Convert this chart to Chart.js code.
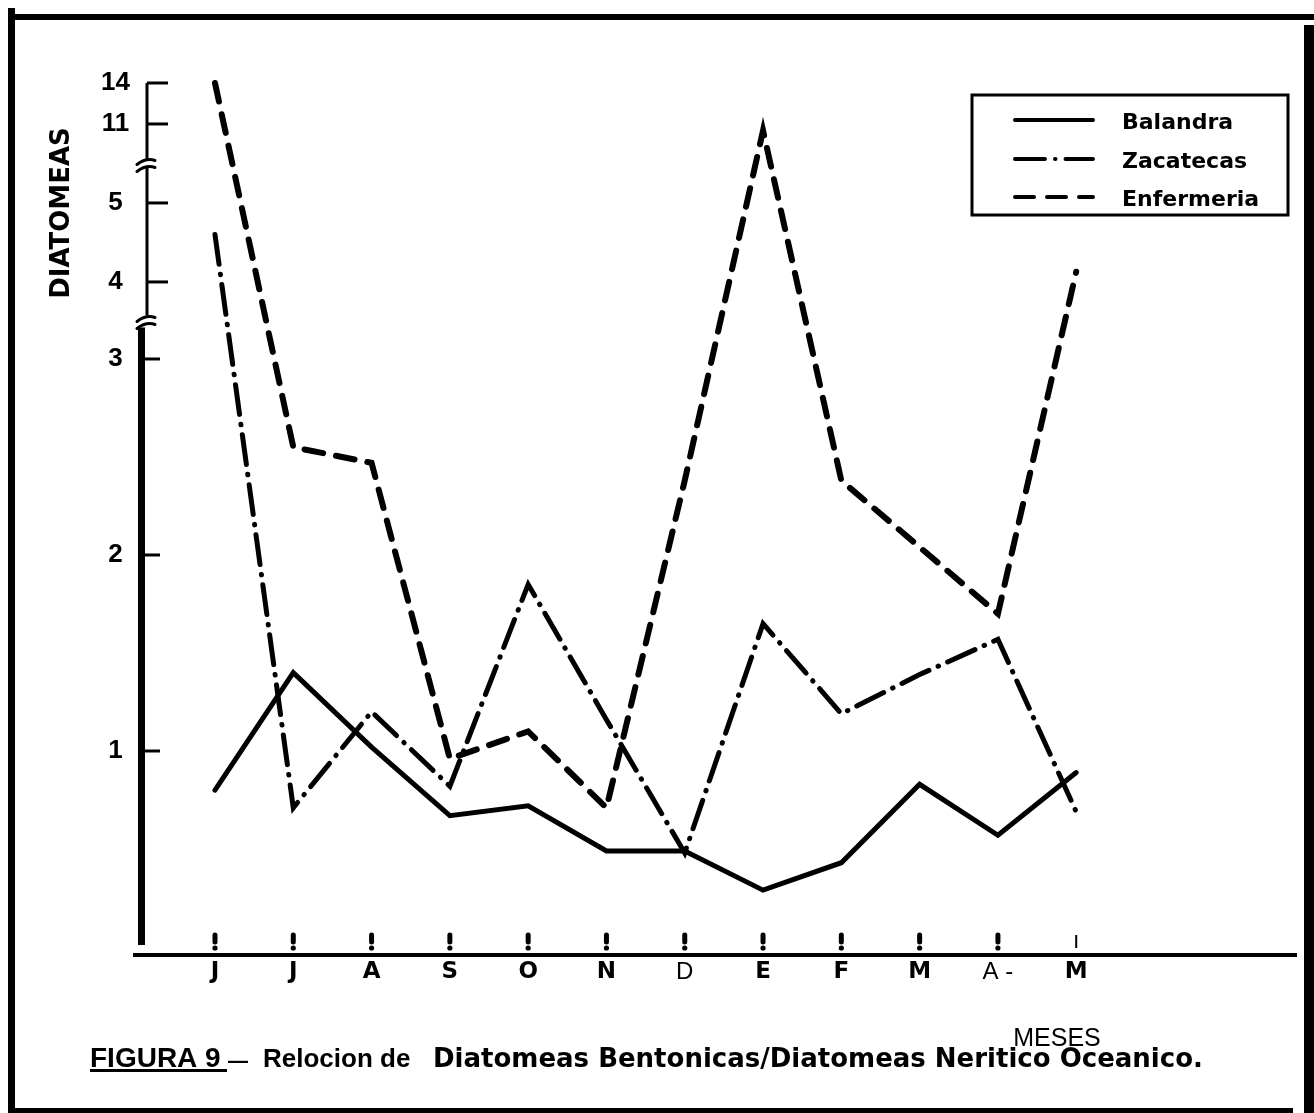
<!DOCTYPE html>
<html><head><meta charset="utf-8">
<script src="https://cdn.jsdelivr.net/npm/chart.js@4"></script>
<style>html,body{margin:0;padding:0;background:#fff;overflow:hidden}</style>
</head><body>
<canvas id="c" width="1314" height="1113"></canvas>
<script>
// ---- data ----
const months = ['J','J','A','S','O','N','D','E','F','M','A -','M'];
const balandra   = [0.80,1.40,1.02,0.67,0.72,0.49,0.49,0.29,0.43,0.83,0.57,0.89];
const zacatecas  = [4.6,0.71,1.20,0.82,1.85,1.16,0.48,1.65,1.19,1.39,1.57,0.69];
const enfermeria = [14,2.55,2.47,0.96,1.10,0.71,2.38,10.5,2.38,2.04,1.70,4.13];
const seriesNames = ['Balandra','Zacatecas','Enfermeria'];
const yTickValues = [1,2,3,4,5,11,14];
const yTickLabels = ['1','2','3','4','5','11','14'];
const plainLabels = ['D','A -'];
const captionA = 'FIGURA 9';
const captionB = 'Relocion de';
const captionC = 'Diatomeas Bentonicas/Diatomeas Neritico Oceanico.';
const yTitle = 'DIATOMEAS';
const xTitle = 'MESES';

// ---- broken axis mapping (value -> axis position) ----
const knotV = [0,3,4,5,11,14];
const knotP = [0,3,3.393,3.796,4.199,4.408];
function brk(v){
  for (let i=1;i<knotV.length;i++){
    if (v<=knotV[i]){
      const f=(v-knotV[i-1])/(knotV[i]-knotV[i-1]);
      return knotP[i-1]+f*(knotP[i]-knotP[i-1]);
    }
  }
  return knotP[knotP.length-1];
}
const pts = arr => arr.map((v,i)=>({x:i,y:brk(v)}));

const deco = {
  id:'deco',
  beforeDraw(chart){
    const c=chart.ctx; c.save(); c.fillStyle='#fff'; c.fillRect(0,0,chart.width,chart.height); c.restore();
  },
  afterDraw(chart){
    const c=chart.ctx, xs=chart.scales.x, ys=chart.scales.y;
    c.save();
    c.fillStyle='#000'; c.strokeStyle='#000';
    // frame
    c.fillRect(8,8,7,1105);
    c.fillRect(8,14,1306,6);
    c.fillRect(1304,25,10,1088);
    c.fillRect(8,1108,1285,5);

    // y axis with breaks
    const yb1 = (ys.getPixelForValue(brk(11))+ys.getPixelForValue(brk(5)))/2;
    const yb2 = (ys.getPixelForValue(brk(4))+ys.getPixelForValue(brk(3)))/2;
    const yTop = ys.getPixelForValue(brk(14));
    c.lineCap='butt';
    c.lineWidth=3;
    c.beginPath(); c.moveTo(147,yTop); c.lineTo(147,yb1-4); c.moveTo(147,yb1+4); c.lineTo(147,yb2-5); c.stroke();
    c.fillRect(138,yb2+7,7,945-(yb2+7));
    // break marks
    c.lineWidth=3; c.lineCap='round';
    [yb1,yb2].forEach(yb=>{
      c.beginPath(); c.moveTo(137,yb+1); c.quadraticCurveTo(146,yb-6,155,yb-3); c.stroke();
      c.beginPath(); c.moveTo(137,yb+8); c.quadraticCurveTo(146,yb+1,155,yb+4); c.stroke();
    });
    // y tick marks
    c.lineCap='butt'; c.lineWidth=3;
    yTickValues.forEach(v=>{
      const y=ys.getPixelForValue(brk(v));
      c.beginPath(); c.moveTo(v<=3?144:147,y); c.lineTo(v<=3?160:168,y); c.stroke();
    });

    // x axis line and ticks
    c.fillRect(133,953,1164,4);
    months.forEach((m,i)=>{
      const x=xs.getPixelForValue(i);
      if (i===months.length-1){ c.fillRect(x-1,935,2,13); return; }
      c.beginPath(); c.lineCap='round'; c.lineWidth=5;
      c.moveTo(x,935); c.lineTo(x,942); c.stroke();
      c.beginPath(); c.arc(x,948,2.6,0,Math.PI*2); c.fill();
    });

    // y title
    c.save(); c.translate(62,213); c.rotate(-Math.PI/2);
    c.font='bold 26px "DejaVu Sans"'; c.textAlign='center'; c.textBaseline='middle';
    c.fillText(yTitle,0,0,183); c.restore();

    // legend
    c.lineWidth=3; c.lineCap='butt'; c.setLineDash([]);
    c.strokeRect(972,95,316,120);
    const ly=[120,159,197];
    chart.data.datasets.forEach((ds,i)=>{
      c.save();
      c.lineWidth=4; c.lineCap='round';
      c.setLineDash(ds.borderDash||[]);
      c.beginPath(); c.moveTo(1015,ly[i]); c.lineTo(1093,ly[i]); c.stroke();
      c.restore();
      c.font='bold 22px "DejaVu Sans"'; c.textAlign='left'; c.textBaseline='middle';
      c.fillText(ds.label,1122,ly[i]+3,140);
    });

    // caption
    c.textBaseline='alphabetic'; c.textAlign='left';
    c.font='bold 28px "Liberation Sans"';
    c.fillText(captionA,90,1067,137);
    c.fillRect(90,1069,137,3);
    c.font='bold 22px "Liberation Sans"';
    c.fillText('\u2014',228,1068,20);
    c.font='bold 26px "Liberation Sans"';
    c.fillText(captionB,263,1067,150);
    c.font='bold 26px "DejaVu Sans"';
    c.fillText(captionC,433,1067,789);
    c.font='25px "Liberation Sans"'; c.textAlign='center';
    c.fillText(xTitle,1057,1046);
    c.restore();
  }
};

new Chart(document.getElementById('c'),{
  type:'line',
  data:{datasets:[
    {label:seriesNames[0],data:pts(balandra),borderColor:'#000',borderWidth:5,borderDash:[],borderCapStyle:'round',borderJoinStyle:'miter',pointRadius:0,tension:0,clip:false},
    {label:seriesNames[1],data:pts(zacatecas),borderColor:'#000',borderWidth:5,borderDash:[30,10,0.5,10],borderCapStyle:'round',borderJoinStyle:'miter',pointRadius:0,tension:0,clip:false},
    {label:seriesNames[2],data:pts(enfermeria),borderColor:'#000',borderWidth:6,borderDash:[19,13],borderCapStyle:'round',borderJoinStyle:'miter',pointRadius:0,tension:0,clip:false}
  ]},
  options:{
    responsive:false, animation:false, devicePixelRatio:1,
    layout:{padding:{left:89,right:17,top:83,bottom:98}},
    plugins:{legend:{display:false},tooltip:{enabled:false},title:{display:false}},
    scales:{
      x:{type:'linear',min:-0.945,max:13.82,
        afterBuildTicks:s=>{s.ticks=months.map((m,i)=>({value:i}));},
        afterFit:s=>{s.height=60;},
        grid:{display:false,drawTicks:false},border:{display:false},
        ticks:{autoSkip:false,maxRotation:0,padding:3,color:'#000',
          callback:(v,i)=>months[i],
          font:ctx=>plainLabels.includes(months[ctx.index])?{family:'Liberation Sans',size:24,weight:'normal'}:{family:'DejaVu Sans',size:23,weight:'bold'}}
      },
      y:{type:'linear',min:-0.0408,max:4.408,
        afterBuildTicks:s=>{s.ticks=yTickValues.map(v=>({value:brk(v)}));},
        afterFit:s=>{s.width=52;},
        grid:{display:false,drawTicks:false},border:{display:false},
        ticks:{autoSkip:false,crossAlign:'center',padding:11,color:'#000',
          callback:(v,i)=>yTickLabels[i],
          font:{family:'Liberation Sans',size:26,weight:'bold'}}
      }
    }
  },
  plugins:[deco]
});
</script>
</body></html>
